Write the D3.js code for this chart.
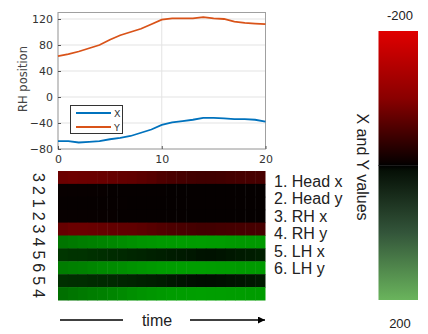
<!DOCTYPE html>
<html>
<head>
<meta charset="utf-8">
<script src="https://cdn.jsdelivr.net/npm/d3@7"></script>
<style>
  body { margin: 0; background: #fff; }
  svg { display: block; }
</style>
</head>
<body>
<div id="chart"></div>
<script>
/// DATA

const time = [0, 1, 2, 3, 4, 5, 6, 7, 8, 9, 10, 11, 12, 13, 14, 15, 16, 17, 18, 19, 20]
const rhX = [-68, -68, -70, -69, -68, -65, -63, -60, -55, -50, -43, -39, -37, -35, -32, -32, -33, -34, -34, -35, -38]
const rhY = [63, 66, 70, 75, 80, 88, 95, 100, 105, 112, 119, 121, 121, 121, 123, 121, 120, 116, 114, 113, 112]
const seriesNames = ["X", "Y"]

const yTicks = [-80, -40, 0, 40, 80, 120]
const xTicks = [0, 10, 20]

// heatmap rows, top to bottom
const rowLabels = ["3", "2", "1", "2", "3", "4", "5", "6", "5", "4"]
const heatRows = [
  [-84, -86, -85, -84, -82, -80, -78, -76, -72, -68, -62, -58, -55, -52, -50, -50, -51, -53, -55, -56, -56],
  [-6, -6, -6, -6, -6, -5, -5, -5, -5, -5, -5, -4, -4, -4, -4, -4, -4, -4, -4, -4, -4],
  [-5, -5, -5, -5, -5, -5, -5, -4, -4, -4, -4, -4, -4, -4, -4, -4, -4, -4, -4, -4, -4],
  [-6, -6, -6, -6, -6, -6, -5, -5, -5, -5, -5, -5, -5, -4, -4, -4, -4, -4, -4, -4, -4],
  [-80, -84, -84, -82, -80, -78, -76, -75, -72, -68, -64, -60, -57, -54, -52, -52, -53, -54, -55, -55, -55],
  [92, 95, 98, 100, 103, 106, 110, 113, 116, 118, 120, 121, 122, 122, 123, 122, 122, 121, 120, 120, 120],
  [42, 40, 40, 38, 36, 34, 32, 30, 28, 26, 24, 22, 20, 18, 15, 14, 16, 18, 20, 22, 24],
  [98, 100, 102, 105, 108, 110, 112, 115, 118, 120, 122, 123, 124, 124, 124, 123, 122, 122, 121, 121, 121],
  [38, 36, 36, 34, 33, 32, 30, 28, 26, 24, 22, 18, 15, 12, 10, 10, 12, 14, 16, 18, 20],
  [88, 92, 95, 98, 100, 104, 108, 112, 115, 118, 120, 122, 123, 124, 125, 124, 124, 123, 123, 122, 122],
]
const channelNames = ["1. Head x", "2. Head y", "3. RH x", "4. RH y", "5. LH x", "6. LH y"]
const colorbarTicks = [-200, 200]

const width = 428
const height = 334

const svg = d3
  .select("#chart")
  .append("svg")
  .attr("width", width)
  .attr("height", height)
  .attr("viewBox", [0, 0, width, height])

/// LINE CHART

const plot = { left: 58, right: 265.5, top: 12.5, bottom: 149 }

const xScale = d3.scaleLinear().domain([0, 20]).range([plot.left, plot.right])
const yScale = d3.scaleLinear().domain([-80, 130]).range([plot.bottom, plot.top])

const lineChart = svg.append("g").attr("class", "line-chart")

// grid
lineChart
  .append("g")
  .selectAll("line")
  .data(yTicks)
  .join("line")
  .attr("x1", plot.left)
  .attr("x2", plot.right)
  .attr("y1", (d) => yScale(d))
  .attr("y2", (d) => yScale(d))
  .attr("stroke", "#e3e3e3")

lineChart
  .append("g")
  .selectAll("line")
  .data(xTicks)
  .join("line")
  .attr("x1", (d) => xScale(d))
  .attr("x2", (d) => xScale(d))
  .attr("y1", plot.top)
  .attr("y2", plot.bottom)
  .attr("stroke", "#e3e3e3")

lineChart
  .append("rect")
  .attr("x", plot.left)
  .attr("y", plot.top)
  .attr("width", plot.right - plot.left)
  .attr("height", plot.bottom - plot.top)
  .attr("fill", "none")
  .attr("stroke", "#a0a0a0")

const xAxis = lineChart
  .append("g")
  .attr("transform", `translate(0,${plot.bottom})`)
  .call(d3.axisBottom(xScale).tickValues(xTicks).tickSizeInner(-3).tickSizeOuter(0).tickPadding(6))
const yAxis = lineChart
  .append("g")
  .attr("transform", `translate(${plot.left},0)`)
  .call(d3.axisLeft(yScale).tickValues(yTicks).tickSizeInner(-3).tickSizeOuter(0).tickPadding(5))

;[xAxis, yAxis].forEach((ax) => {
  ax.select(".domain").remove()
  ax.selectAll("line").attr("stroke", "#555")
  ax.selectAll("text")
    .style("font-family", "DejaVu Sans")
    .style("font-size", "11px")
    .attr("fill", "#333")
})

lineChart
  .append("text")
  .attr("transform", "translate(27,79) rotate(-90)")
  .attr("text-anchor", "middle")
  .style("font-family", "DejaVu Sans")
  .style("font-size", "11.5px")
  .attr("fill", "#444")
  .text("RH position")

const lineColors = d3.scaleOrdinal().domain(seriesNames).range(["#0072bd", "#d95319"])

const lineGenerator = d3
  .line()
  .x((d, i) => xScale(time[i]))
  .y((d) => yScale(d))

lineChart
  .selectAll(".series")
  .data([rhX, rhY])
  .join("path")
  .attr("class", "series")
  .attr("d", lineGenerator)
  .attr("fill", "none")
  .attr("stroke", (d, i) => lineColors(seriesNames[i]))
  .attr("stroke-width", 1.8)

// legend
const legend = lineChart.append("g")
legend
  .append("rect")
  .attr("x", 70.5)
  .attr("y", 105.5)
  .attr("width", 52)
  .attr("height", 28)
  .attr("fill", "#fff")
  .attr("stroke", "#333")
const legendItems = legend
  .selectAll("g")
  .data(seriesNames)
  .join("g")
  .attr("transform", (d, i) => `translate(0,${113 + i * 14})`)
legendItems
  .append("line")
  .attr("x1", 76)
  .attr("x2", 111)
  .attr("stroke", (d) => lineColors(d))
  .attr("stroke-width", 1.8)
legendItems
  .append("text")
  .attr("x", 114)
  .attr("y", 3.5)
  .style("font-family", "DejaVu Sans")
  .style("font-size", "9.5px")
  .attr("fill", "#333")
  .text((d) => d)

/// HEATMAP

const heat = { left: 58, right: 265, top: 171, bottom: 300 }

const colX = d3.scaleBand().domain(time).range([heat.left, heat.right])
const rowY = d3.scaleBand().domain(d3.range(rowLabels.length)).range([heat.top, heat.bottom])

const heatColor = d3
  .scaleLinear()
  .domain([-200, 0, 200])
  .range(["#ff0000", "#000000", "#00ff00"])

const heatmap = svg.append("g").attr("class", "heatmap")

heatmap
  .selectAll("g")
  .data(heatRows)
  .join("g")
  .selectAll("rect")
  .data((row, r) => row.map((v, c) => ({ v, r, c })))
  .join("rect")
  .attr("x", (d) => colX(time[d.c]))
  .attr("y", (d) => rowY(d.r))
  .attr("width", colX.bandwidth() + 0.5)
  .attr("height", rowY.bandwidth() + 0.5)
  .attr("fill", (d) => heatColor(d.v))

heatmap
  .selectAll(".row-label")
  .data(rowLabels)
  .join("text")
  .attr("class", "row-label")
  .attr("transform", (d, i) => `translate(33,${rowY(i) + rowY.bandwidth() / 2}) rotate(90)`)
  .attr("text-anchor", "middle")
  .style("font-family", "Liberation Sans")
  .style("font-size", "16px")
  .attr("fill", "#222")
  .text((d) => d)

heatmap
  .selectAll(".channel")
  .data(channelNames)
  .join("text")
  .attr("class", "channel")
  .attr("x", 274)
  .attr("y", (d, i) => 187 + i * 17.4)
  .style("font-family", "Liberation Sans")
  .style("font-size", "16px")
  .attr("fill", "#222")
  .text((d) => d)

// time arrow
svg
  .append("defs")
  .append("marker")
  .attr("id", "arrow")
  .attr("viewBox", "0 0 10 10")
  .attr("refX", 10)
  .attr("refY", 5)
  .attr("markerWidth", 12)
  .attr("markerHeight", 7)
  .attr("markerUnits", "userSpaceOnUse")
  .attr("orient", "auto")
  .append("path")
  .attr("d", "M0,0L10,5L0,10Z")
  .attr("fill", "#000")

svg.append("line").attr("x1", 60).attr("x2", 123).attr("y1", 320).attr("y2", 320).attr("stroke", "#000").attr("stroke-width", 1.5)
svg.append("line").attr("x1", 190).attr("x2", 265).attr("y1", 320).attr("y2", 320).attr("stroke", "#000").attr("stroke-width", 1.5).attr("marker-end", "url(#arrow)")
svg
  .append("text")
  .attr("x", 157)
  .attr("y", 326)
  .attr("text-anchor", "middle")
  .style("font-family", "Liberation Sans")
  .style("font-size", "16px")
  .attr("fill", "#222")
  .text("time")

/// COLORBAR

const bar = { left: 378.5, right: 418, top: 31, bottom: 300 }
const gradient = svg
  .select("defs")
  .append("linearGradient")
  .attr("id", "cbar")
  .attr("x1", 0)
  .attr("x2", 0)
  .attr("y1", 0)
  .attr("y2", 1)
const stops = [
  [0, "#e00000"],
  [0.25, "#8a0000"],
  [0.49, "#080000"],
  [0.5, "#000000"],
  [0.52, "#061006"],
  [0.75, "#33553a"],
  [1, "#6ab45c"],
]
gradient
  .selectAll("stop")
  .data(stops)
  .join("stop")
  .attr("offset", (d) => d[0])
  .attr("stop-color", (d) => d[1])

const barScale = d3.scaleLinear().domain([-200, 200]).range([bar.top, bar.bottom])

svg
  .append("rect")
  .attr("x", bar.left)
  .attr("y", barScale(-200))
  .attr("width", bar.right - bar.left)
  .attr("height", barScale(200) - barScale(-200))
  .attr("fill", "url(#cbar)")

svg
  .append("line")
  .attr("x1", bar.left)
  .attr("x2", bar.right)
  .attr("y1", barScale(0))
  .attr("y2", barScale(0))
  .attr("stroke", "#1c1c1c")

svg
  .selectAll(".cbar-tick")
  .data(colorbarTicks)
  .join("text")
  .attr("class", "cbar-tick")
  .attr("x", 400)
  .attr("y", (d) => (d < 0 ? barScale(d) - 11 : barScale(d) + 28))
  .attr("text-anchor", "middle")
  .style("font-family", "Liberation Sans")
  .style("font-size", "13px")
  .attr("fill", "#222")
  .text((d) => d)

svg
  .append("text")
  .attr("transform", "translate(357,167) rotate(90)")
  .attr("text-anchor", "middle")
  .style("font-family", "Liberation Sans")
  .style("font-size", "16px")
  .attr("fill", "#222")
  .text("X and Y values")
</script>
</body>
</html>
